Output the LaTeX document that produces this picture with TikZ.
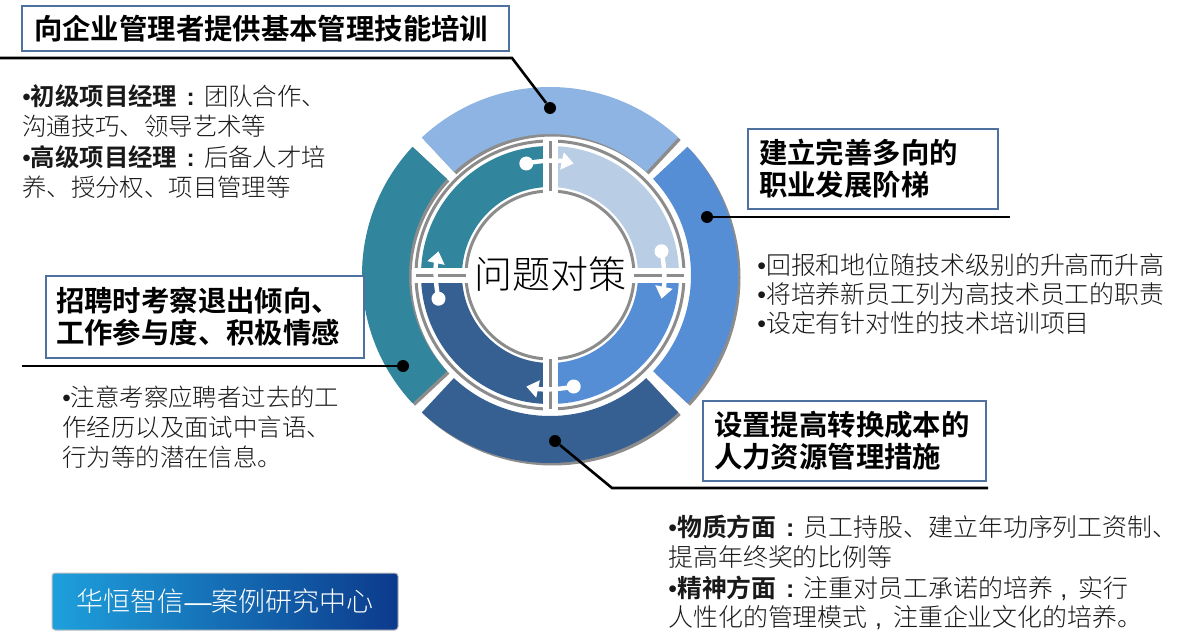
\documentclass[tikz,border=0pt]{standalone}
\usepackage{fontspec}
\setmainfont{Noto Sans CJK SC}[UprightFont=* Light, BoldFont=* Bold]
\newfontfamily\latinf{Liberation Sans}
\usetikzlibrary{arrows.meta}
\definecolor{segA}{RGB}{142,180,227}
\definecolor{segB}{RGB}{85,142,213}
\definecolor{segC}{RGB}{55,96,146}
\definecolor{segD}{RGB}{49,133,156}
\definecolor{segE}{RGB}{185,205,229}
\definecolor{framegray}{RGB}{140,140,140}
\definecolor{boxline}{RGB}{79,113,160}
\definecolor{logoA}{RGB}{30,160,220}
\definecolor{logoB}{RGB}{12,58,140}
\definecolor{bodytext}{RGB}{25,25,25}
\newcommand\annsector[5]{\fill[#1] (#2:#5) arc[start angle=#2,end angle=#3,radius=#5] -- (#3:#4) arc[start angle=#3,end angle=#2,radius=#4] -- cycle;}
\newcommand\ringarrow[2]{%
  \draw[white, line width=2.2pt, -{Triangle[width=8.5pt,length=6pt]}] (#1:114) arc[start angle=#1, end angle=#2, radius=114];
  \fill[white] (#1:114) circle[radius=7];}
\newcommand\bul{{\latinf •}}
\newcommand\colonc{\hspace{0.38em}{\latinf\bfseries :}\hspace{0.38em}}
\newcommand\commac{\hspace{0.3em}{\latinf ,}\hspace{0.45em}}
\tikzset{
  titlebox/.style={draw=boxline, line width=1pt, fill=white, align=left,
    font=\bfseries\fontsize{14.2}{16}\selectfont, text=black, anchor=north west, inner ysep=0pt},
  body/.style={font=\fontsize{12.2}{15}\selectfont, anchor=base west, inner sep=0pt, text=bodytext},
  bodyr/.style={body, font=\fontsize{12.45}{15}\selectfont},
  dotnode/.style={circle, fill=black, inner sep=0pt, minimum size=6pt},
  conn/.style={line width=1.3pt, black},
  logo/.style={left color=logoA, right color=logoB, draw=black!25, line width=0.5pt,
    rounded corners=1.5pt, minimum width=173pt, minimum height=28.5pt, text=white,
    font=\fontsize{13.5}{14}\selectfont, inner sep=0pt}
}
\begin{document}
\begin{tikzpicture}[x=0.5pt,y=0.5pt]
\fill[white] (0,0) rectangle (1200,-642);
\useasboundingbox (0,0) rectangle (1200,-642);

\begin{scope}[shift={(550,-275)}]
  % outer ring shadows
  \begin{scope}[shift={(2.5,-2.5)}]
    \annsector{framegray}{47}{133}{141}{188}
    \annsector{framegray}{137}{223}{141}{188}
    \annsector{framegray}{227}{313}{141}{188}
    \annsector{framegray}{-43}{43}{141}{188}
  \end{scope}
  % outer ring
  \annsector{segA}{47}{133}{141}{188}
  \annsector{segD}{137}{223}{141}{188}
  \annsector{segC}{227}{313}{141}{188}
  \annsector{segB}{-43}{43}{141}{188}
  % gray frame of inner ring
  \draw[framegray, line width=1.5pt] (0,0) circle[radius=134];
  \draw[framegray, line width=1.5pt] (0,0) circle[radius=84];
  % inner ring quadrants
  \annsector{segE}{0}{90}{88}{129}
  \annsector{segB}{-90}{0}{88}{129}
  \annsector{segC}{180}{270}{88}{129}
  \annsector{segD}{90}{180}{88}{129}
  % gaps
  \fill[white] (-7.5,80) rectangle (7.5,138);
  \fill[white] (-7.5,-80) rectangle (7.5,-138);
  \fill[white] (80,-7.5) rectangle (138,7.5);
  \fill[white] (-80,-7.5) rectangle (-138,7.5);
  \draw[framegray, line width=1.5pt] (0,84) -- (0,134);
  \draw[framegray, line width=1.5pt] (0,-84) -- (0,-134);
  \draw[framegray, line width=1.5pt] (84,0) -- (134,0);
  \draw[framegray, line width=1.5pt] (-84,0) -- (-134,0);
  % white arrows
  \ringarrow{102}{78}
  \ringarrow{12}{-12}
  \ringarrow{-78}{-102}
  \ringarrow{192}{168}
  % centre text
  \node[font=\fontsize{19}{20}\selectfont, text=black, inner sep=0pt] (centre) at (0,1) {问题对策};
\end{scope}

% title boxes
\node[titlebox, minimum width=243.5pt, minimum height=22.5pt, inner xsep=6pt, text width=231.5pt] (box1) at (21,-5) {向企业管理者提供基本管理技能培训};
\node[titlebox, minimum width=125pt, minimum height=40pt, inner xsep=5.5pt, text width=114pt] (box2) at (747,-128) {建立完善多向的\\职业发展阶梯};
\node[titlebox, minimum width=159pt, minimum height=41pt, inner xsep=5pt, text width=149pt] (box3) at (45,-275) {招聘时考察退出倾向、\\工作参与度、积极情感};
\node[titlebox, minimum width=141.5pt, minimum height=40pt, inner xsep=5.5pt, text width=130.5pt] (box4) at (702,-400) {设置提高转换成本的\\人力资源管理措施};

% connectors
\node[dotnode] (dt) at (550,-108) {};
\node[dotnode] (dr) at (707,-217) {};
\node[dotnode] (dl) at (403,-366) {};
\node[dotnode] (db) at (555,-441) {};
\coordinate (t0) at (0,-58);
\coordinate (t1) at (512,-58);
\coordinate (r1) at (1010,-217);
\coordinate (l0) at (22,-366);
\coordinate (b1) at (612,-488);
\coordinate (b2) at (988,-488);
\draw[conn] (t0) -- (t1) -- (dt);
\draw[conn] (dr) -- (r1);
\draw[conn] (l0) -- (dl);
\draw[conn] (db) -- (b1) -- (b2);

% body texts
\node[body] (tl1) at (22,-106) {\bul\textbf{初级项目经理}\colonc 团队合作、};
\node[body] (tl2) at (22,-136) {沟通技巧、领导艺术等};
\node[body] (tl3) at (22,-167) {\bul\textbf{高级项目经理}\colonc 后备人才培};
\node[body] (tl4) at (22,-197) {养、授分权、项目管理等};

\node[bodyr] (rt1) at (757,-274) {\bul 回报和地位随技术级别的升高而升高};
\node[bodyr] (rt2) at (757,-303) {\bul 将培养新员工列为高技术员工的职责};
\node[bodyr] (rt3) at (757,-332) {\bul 设定有针对性的技术培训项目};

\node[body] (lb1) at (62,-406) {\bul 注意考察应聘者过去的工};
\node[body] (lb2) at (62,-436) {作经历以及面试中言语、};
\node[body] (lb3) at (62,-466) {行为等的潜在信息。};

\node[bodyr] (br1) at (668,-536) {\bul\textbf{物质方面}\colonc 员工持股、建立年功序列工资制、};
\node[bodyr] (br2) at (668,-566) {提高年终奖的比例等};
\node[bodyr] (br3) at (668,-597) {\bul\textbf{精神方面}\colonc 注重对员工承诺的培养\commac 实行};
\node[bodyr] (br4) at (668,-626) {人性化的管理模式\commac 注重企业文化的培养。};

% logo
\node[logo] (logo) at (225,-601.5) {华恒智信{\latinf —}案例研究中心};
\end{tikzpicture}
\end{document}
